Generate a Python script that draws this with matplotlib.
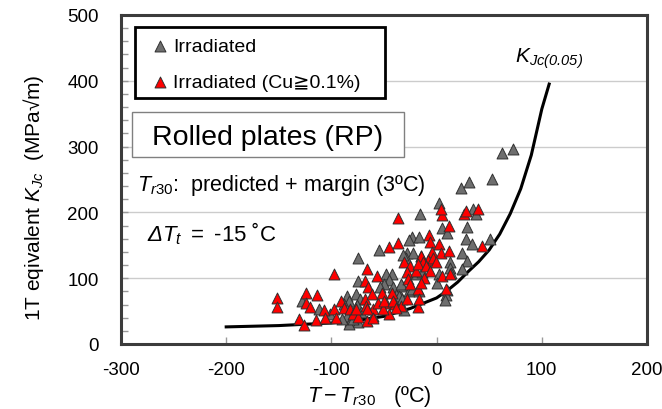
import matplotlib
matplotlib.use("Agg")
import matplotlib.pyplot as plt
from matplotlib.patches import Rectangle

plt.rcParams['font.family'] = ['Liberation Sans', 'DejaVu Sans']
plt.rcParams['mathtext.fontset'] = 'custom'
plt.rcParams['mathtext.rm'] = 'Liberation Sans'
plt.rcParams['mathtext.it'] = 'Liberation Sans:italic'
plt.rcParams['mathtext.bf'] = 'Liberation Sans:bold'
plt.rcParams['axes.unicode_minus'] = False

# irradiated data (T - Tr30 in degC, KJc in MPa sqrt(m))
gray_x = [62, 73, 23, 31, 53, 2, -16, 35, 37, 5, 10, 29, 28, 34, 51, 24, 29, 24,
          13, 13, 14, 2, 0, 10, 9, 8, -23, -17, -26, -28, -22, -15, -29, -32,
          -55, -75, -42, -48, -45, -50, -41, -37, -54, -33, -36, -33, -26, -17,
          -23, -20, -14, -34, -75, -77, -73, -76, -72, -82, -75, -85, -83, -88,
          -85, -83, -128, -112, -101, -90, -79, -60, -31]
gray_y = [290, 296, 237, 246, 251, 215, 197, 205, 197, 176, 169, 178, 159, 152,
          159, 139, 126, 114, 125, 116, 108, 106, 93, 82, 75, 67, 163, 162, 158,
          139, 139, 134, 131, 136, 143, 130, 106, 106, 98, 91, 87, 81, 86, 88,
          73, 68, 81, 81, 83, 106, 109, 91, 96, 76, 68, 59, 48, 35, 33, 73, 66,
          61, 43, 30, 66, 53, 45, 38, 38, 43, 52]

# irradiated, Cu >= 0.1%
red_x = [-152, -152, -124, -114, -124, -120, -131, -126, -115, -107, -106, -98,
         -96, -91, -88, -98, -82, -79, -75, -66, -57, -68, -65, -68, -67, -66,
         -60, -56, -61, -52, -48, -45, -51, -42, -40, -34, -45, -37, -37, -31,
         -25, -28, -27, -25, -18, -28, -18, -20, -50, -41, -77, -66, -60, -17,
         -39, -7, -6, -4, -8, 2, 4, 12, 5, 4, 12, -15, -13, -18, -10, -3, -1,
         -6, -12, -15, 5, 13, 9, 26, 28, 39, 43]
red_y = [70, 56, 78, 74, 63, 56, 38, 29, 36, 51, 39, 53, 40, 66, 54, 107, 53,
         45, 41, 114, 103, 96, 87, 68, 58, 35, 53, 63, 76, 77, 63, 45, 53, 78,
         61, 58, 147, 153, 192, 125, 119, 109, 99, 91, 83, 68, 56, 111, 65, 66,
         53, 53, 40, 68, 54, 165, 155, 140, 128, 152, 139, 180, 196, 205, 141,
         134, 124, 121, 119, 131, 124, 111, 101, 93, 103, 106, 83, 197, 202,
         205, 149]

# KJc(0.05) curve
curve_x = [-200, -175, -150, -125, -100, -75, -50, -25, 0, 10, 20, 30, 40, 50,
           60, 70, 80, 90, 100, 107]
curve_y = [26, 27, 28, 30, 32, 36, 42, 54, 70, 81, 94, 110, 125, 143, 167, 198,
           236, 287, 357, 395]

fig = plt.figure(figsize=(6.62, 4.10), dpi=100)
ax = fig.add_axes([121 / 662, 65 / 410, 526 / 662, 329 / 410])

ax.set_xlim(-300, 200)
ax.set_ylim(0, 500)
ax.set_xticks(range(-300, 201, 100))
ax.set_yticks(range(0, 501, 100))
ax.set_yticks(range(0, 501, 20), minor=True)
ax.tick_params(axis='both', which='both', direction='in', color='#999999',
               length=5, width=1, labelsize=13.5)
ax.tick_params(axis='x', pad=12.5)
ax.tick_params(axis='y', pad=16)
for y in [100, 200, 300, 400]:
    ax.axhline(y, color='#cccccc', lw=1, zorder=0)
for sp in ax.spines.values():
    sp.set_linewidth(2.2)
    sp.set_color('#3c3c3c')

ax.plot(curve_x, curve_y, color='black', lw=2.2, zorder=2)
h1 = ax.scatter(gray_x, gray_y, marker='^', s=62, c='#6e6e6e',
                edgecolors='#303030', linewidths=0.7, zorder=3, label='Irradiated')
h2 = ax.scatter(red_x, red_y, marker='^', s=62, c='#ff0000',
                edgecolors='#303030', linewidths=0.7, zorder=3,
                label='Irradiated (Cu≧0.1%)')

# legend box
ax.add_patch(Rectangle((0.0266, 0.748), 0.4754, 0.2155, transform=ax.transAxes,
                       facecolor='white', edgecolor='black', lw=2, zorder=4))
leg = ax.legend(handles=[h1, h2], loc='upper left', bbox_to_anchor=(0.059, 0.931),
                borderaxespad=0, borderpad=0, frameon=False, fontsize=14,
                handlelength=0.8, handletextpad=0.3, labelspacing=0.95,
                scatterpoints=1)
leg.set_zorder(5)

# Rolled plates box
ax.add_patch(Rectangle((0.0209, 0.568), 0.5171, 0.137, transform=ax.transAxes,
                       facecolor='white', edgecolor='#808080', lw=1, zorder=4))
ax.text(0.279, 0.608, 'Rolled plates (RP)', transform=ax.transAxes,
        ha='center', va='baseline', fontsize=20.5, zorder=5)

ax.text(0.030, 0.469, r'$T_{r30}$:  predicted + margin (3ºC)',
        transform=ax.transAxes, ha='left', va='baseline', fontsize=15.5)
ax.text(0.049, 0.314, r'$\mathdefault{Δ}T_t\ =\ \mathrm{‐15\ ˚C}$',
        transform=ax.transAxes, ha='left', va='baseline', fontsize=16,
        style='italic')
ax.text(0.749, 0.857, r'$\mathdefault{K}_{\mathdefault{Jc(0.05)}}$',
        transform=ax.transAxes, ha='left', va='baseline', fontsize=15,
        style='italic')

fig.text(34 / 662, 1 - 198 / 410, r'1T eqivalent $K_{Jc}$  (MPa√m)',
         rotation=90, ha='center', va='center', fontsize=15)
fig.text(369 / 662, 8 / 410, r'$T-T_{r30}$   (ºC)',
         ha='center', va='baseline', fontsize=15.5)

fig.savefig('out.png', dpi=100)
